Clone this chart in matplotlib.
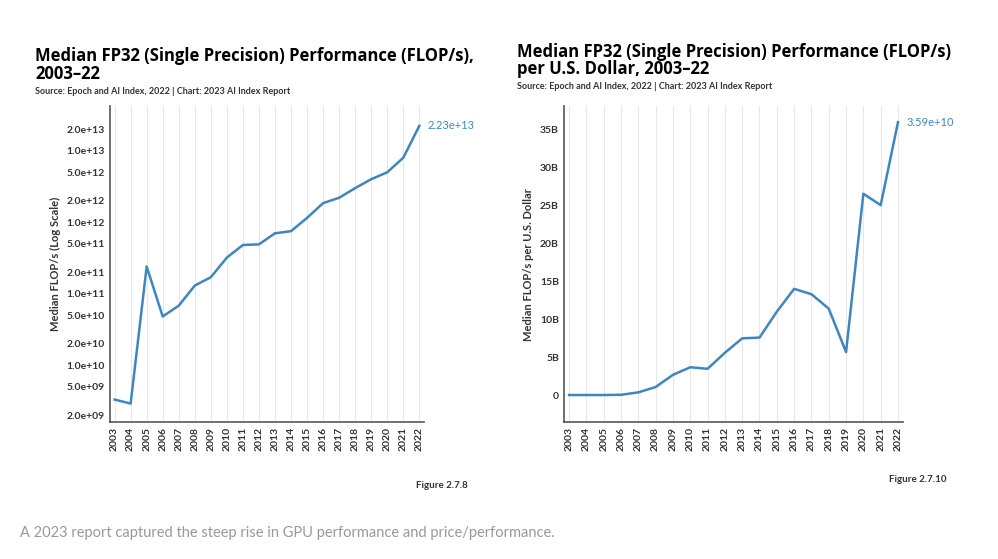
import matplotlib.pyplot as plt
from matplotlib.ticker import FuncFormatter

years = list(range(2003, 2023))
flops = [3.3e9, 2.9e9, 2.4e11, 4.8e10, 6.8e10, 1.3e11, 1.7e11, 3.2e11, 4.8e11, 4.9e11,
         7.0e11, 7.5e11, 1.15e12, 1.85e12, 2.2e12, 3.0e12, 4.0e12, 5.0e12, 8.0e12, 2.23e13]
flops_per_dollar_b = [0.05, 0.05, 0.05, 0.08, 0.4, 1.1, 2.7, 3.7, 3.5, 5.6,
                      7.5, 7.6, 11.0, 14.0, 13.3, 11.4, 5.7, 26.5, 25.0, 35.9]
log_ticks = [2e9, 5e9, 1e10, 2e10, 5e10, 1e11, 2e11, 5e11, 1e12, 2e12, 5e12, 1e13, 2e13]
lin_ticks = [0, 5, 10, 15, 20, 25, 30, 35]

blue = '#3f86bf'
plt.rcParams['font.family'] = ['Lato', 'DejaVu Sans']
fig = plt.figure(figsize=(9.98, 5.59), dpi=100)
title_font = dict(fontsize=12, fontweight='bold', family=['Open Sans', 'DejaVu Sans'],
                  va='bottom', linespacing=0.95)

def style(ax):
    for s in ['top', 'right']:
        ax.spines[s].set_visible(False)
    for s in ['left', 'bottom']:
        ax.spines[s].set_color('#555555')
        ax.spines[s].set_linewidth(1.2)
    ax.grid(axis='x', color='#e8e8e8', linewidth=0.8)
    ax.set_axisbelow(True)
    ax.set_xticks(years)
    ax.set_xticklabels([str(y) for y in years], rotation=90, fontsize=7.5, fontweight='bold', color='#333333')
    ax.tick_params(length=0, labelsize=7.5)
    ax.set_xlim(2002.7, 2022.3)

# left chart
ax1 = fig.add_axes([0.11, 0.245, 0.315, 0.565])
ax1.plot(years, flops, color=blue, lw=1.8)
ax1.set_yscale('log')
ax1.set_ylim(1.6e9, 4.2e13)
ax1.set_yticks(log_ticks)
ax1.minorticks_off()
ax1.yaxis.set_major_formatter(FuncFormatter(lambda v, p: '%.1e' % v))
style(ax1)
for t in ax1.get_yticklabels():
    t.set_fontweight('bold'); t.set_color('#333333')
ax1.set_ylabel('Median FLOP/s (Log Scale)', fontsize=8, fontweight='bold', color='#333333')
ax1.annotate('%.2e' % flops[-1], (years[-1], flops[-1]), xytext=(6, 0), textcoords='offset points',
             color=blue, fontsize=8, va='center')
fig.text(0.035, 0.852, 'Median FP32 (Single Precision) Performance (FLOP/s),\n2003–22', **title_font)
fig.text(0.035, 0.832, 'Source: Epoch and AI Index, 2022 | Chart: 2023 AI Index Report', fontsize=6.5, fontweight='bold', color='#333333')
fig.text(0.469, 0.127, 'Figure 2.7.8', fontsize=7, fontweight='bold', color='#333333', ha='right')

# right chart
ax2 = fig.add_axes([0.565, 0.245, 0.34, 0.565])
ax2.plot(years, flops_per_dollar_b, color=blue, lw=1.8)
ax2.set_ylim(-3.5, 38)
ax2.set_yticks(lin_ticks)
ax2.set_yticklabels(['0'] + ['%dB' % v for v in lin_ticks[1:]], fontweight='bold', color='#333333')
style(ax2)
ax2.set_ylabel('Median FLOP/s per U.S. Dollar', fontsize=8, fontweight='bold', color='#333333')
ax2.annotate('3.59e+10', (years[-1], flops_per_dollar_b[-1]), xytext=(6, 0), textcoords='offset points',
             color=blue, fontsize=8, va='center')
fig.text(0.518, 0.86, 'Median FP32 (Single Precision) Performance (FLOP/s)\nper U.S. Dollar, 2003–22', **title_font)
fig.text(0.518, 0.84, 'Source: Epoch and AI Index, 2022 | Chart: 2023 AI Index Report', fontsize=6.5, fontweight='bold', color='#333333')
fig.text(0.948, 0.137, 'Figure 2.7.10', fontsize=7, fontweight='bold', color='#333333', ha='right')

fig.text(0.02, 0.04, 'A 2023 report captured the steep rise in GPU performance and price/performance.',
         fontsize=10.5, color='#999999')

fig.savefig('out.png', dpi=100, facecolor='white')
